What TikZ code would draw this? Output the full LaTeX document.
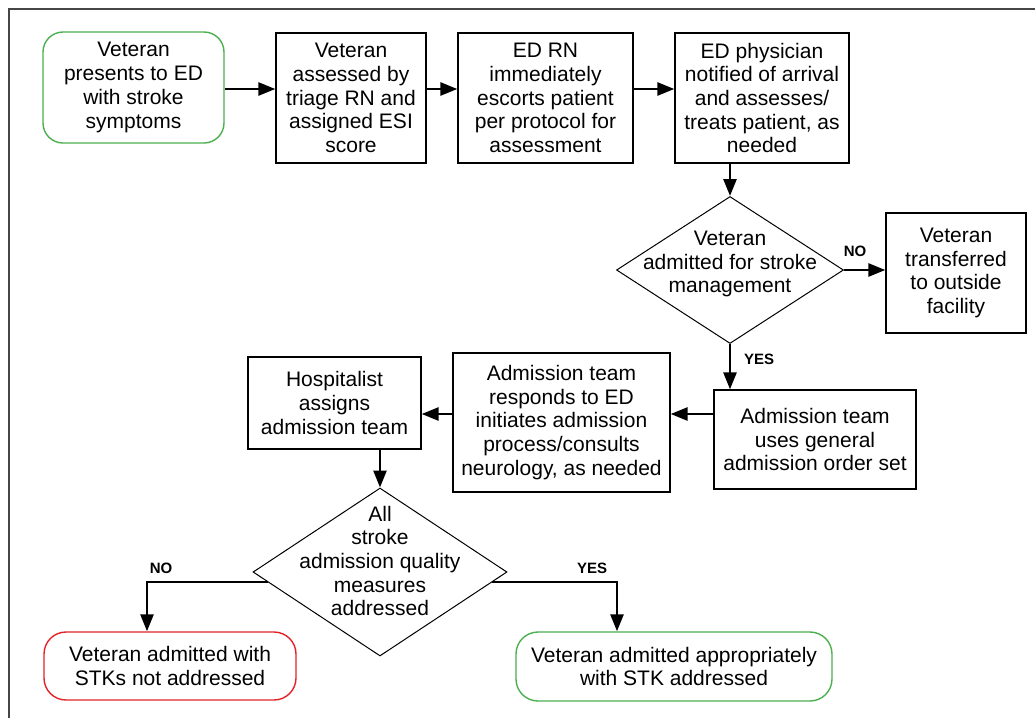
\documentclass[tikz,border=0pt]{standalone}
\usepackage{fontspec}
\setmainfont{Liberation Sans}
\usetikzlibrary{arrows.meta,calc,shapes.geometric}
\definecolor{frm}{RGB}{70,70,70}
\definecolor{okgreen}{RGB}{76,175,80}
\definecolor{badred}{RGB}{225,35,40}
\begin{document}
\begin{tikzpicture}[x=1pt,y=-1pt,
 box/.style={draw=black, line width=1.3pt, rectangle, inner sep=0pt, align=center, font=\fontsize{21}{23.7}\selectfont},
 term/.style={box, rounded corners=20pt, line width=1.4pt},
 dia/.style={draw=black, line width=1pt, diamond, inner sep=0pt},
 txt/.style={align=center, inner sep=0pt, font=\fontsize{21}{23.7}\selectfont},
 arr/.style={line width=2.6pt, -{Triangle[length=17pt,width=13pt]}},
 lbl/.style={font=\fontsize{15}{16}\selectfont\bfseries, inner sep=0pt}]
\useasboundingbox (0,0) rectangle (1035,718);
\draw[frm, line width=2pt] (1035,9) -- (9,9) -- (9,718);

\node[term, draw=okgreen, minimum width=181pt, minimum height=111pt] (start) at (133.5,87.5) {Veteran\\presents to ED\\with stroke\\symptoms};
\node[box, minimum width=150pt, minimum height=130pt] (b2) at (351,98) {Veteran\\assessed by\\triage RN and\\assigned ESI\\score};
\node[box, minimum width=175pt, minimum height=130pt] (b3) at (545.5,98) {ED RN\\immediately\\escorts patient\\per protocol for\\assessment};
\node[box, minimum width=174pt, minimum height=130pt] (b4) at (762,98) {ED physician\\notified of arrival\\and assesses/\\treats patient, as\\needed};
\node[dia, minimum width=227pt, minimum height=147pt] (d1) at (730,270) {};
\node[txt] (d1t) at (730,264) {Veteran\\admitted for stroke\\management};
\node[box, minimum width=140pt, minimum height=120pt] (tr) at (956,273) {Veteran\\transferred\\to outside\\facility};
\node[box, minimum width=202pt, minimum height=99pt] (adm) at (815,439.5) {Admission team\\uses general\\admission order set};
\node[box, minimum width=217pt, minimum height=139pt] (resp) at (561.5,422.5) {Admission team\\responds to ED\\initiates admission\\process/consults\\neurology, as needed};
\node[box, minimum width=173pt, minimum height=92pt] (hosp) at (334.5,403) {Hospitalist\\assigns\\admission team};
\node[dia, minimum width=254pt, minimum height=168pt] (d2) at (380,572) {};
\node[txt] (d2t) at (380,561) {All\\stroke\\admission quality\\measures\\addressed};
\node[term, draw=badred, minimum width=252pt, minimum height=68pt, rounded corners=22pt] (red) at (170,666) {Veteran admitted with\\STKs not addressed};
\node[term, draw=okgreen, minimum width=316pt, minimum height=69pt, rounded corners=22pt] (grn) at (674,666.5) {Veteran admitted appropriately\\with STK addressed};

\coordinate (ya) at (0,89);
\coordinate (yb) at (0,414);
\coordinate (nx) at (147,0);
\coordinate (yx) at (617,0);
\draw[arr] (start.east |- ya) -- (b2.west |- ya);
\draw[arr] (b2.east |- ya) -- (b3.west |- ya);
\draw[arr] (b3.east |- ya) -- (b4.west |- ya);
\draw[arr] (b4.south -| d1.north) -- (d1.north);
\draw[arr] (d1.east) -- (tr.west |- d1.east);
\draw[arr] (d1.south) -- (d1.south |- adm.north);
\draw[arr] (adm.west |- yb) -- (resp.east |- yb);
\draw[arr] (resp.west |- yb) -- (hosp.east |- yb);
\draw[arr] (hosp.south -| d2.north) -- (d2.north);
\draw[arr] ($(d2.west)!0.12!(d2.south)$) -| (red.north -| nx);
\draw[arr] ($(d2.east)!0.12!(d2.south)$) -| (grn.north -| yx);

\node[lbl] (no1) at (855,251) {NO};
\node[lbl] (yes1) at (759,359) {YES};
\node[lbl] (no2) at (161,568) {NO};
\node[lbl] (yes2) at (592,568) {YES};
\end{tikzpicture}
\end{document}
